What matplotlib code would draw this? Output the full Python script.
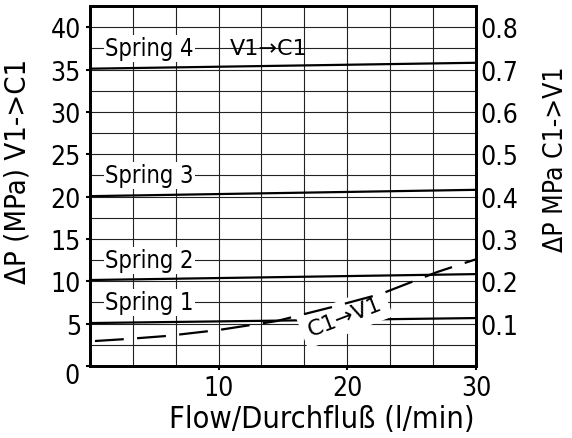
import matplotlib
matplotlib.use('Agg')
import matplotlib.pyplot as plt
import matplotlib.transforms as mtransforms
import numpy as np

# flow (l/min)
flow = [0, 30]
# spring curves, dP V1->C1 (MPa)
spring1 = [5.07, 5.66]
spring2 = [10.15, 10.85]
spring3 = [20.05, 20.8]
spring4 = [35.1, 35.8]
spring_labels = ['Spring 1', 'Spring 2', 'Spring 3', 'Spring 4']
label_y = [7.5, 12.5, 22.5, 37.5]

# check valve C1->V1 (MPa, right axis)
cv_flow = [0.4, 3, 6, 10, 14.5, 18.8, 22.6, 27, 30]
cv_dp = [0.059, 0.064, 0.071, 0.085, 0.106, 0.139, 0.170, 0.222, 0.252]

plt.rcParams['font.family'] = ['DejaVu Sans']
plt.rcParams['font.stretch'] = 'condensed'

fig = plt.figure(figsize=(5.72, 4.39), dpi=100)
ax = fig.add_axes([0.157, 0.164, 0.675, 0.82])
ax.set_xlim(0, 30)
ax.set_ylim(0, 42.5)

# grid
for gx in np.arange(1, 9) * 10 / 3:
    ax.axvline(gx, color='#222222', lw=0.8, zorder=0.5)
for gy in np.arange(2.5, 42.5, 2.5):
    ax.axhline(gy, color='#222222', lw=0.8, zorder=0.5)

for s in [spring1, spring2, spring3, spring4]:
    ax.plot(flow, s, color='black', lw=1.6, zorder=3)

for lab, y in zip(spring_labels, label_y):
    ax.text(1.2, y, lab, fontsize=17, va='center', ha='left', zorder=2,
            bbox=dict(facecolor='white', edgecolor='none', pad=1))

ax.text(10.9, 37.5, 'V1\u2192C1', fontsize=16, va='center', ha='left',
        family='DejaVu Sans', stretch='normal', zorder=2)

ax.set_xticks([10, 20, 30])
ax.set_yticks(np.arange(0, 45, 5))
ax.set_yticklabels([''] + [str(v) for v in range(5, 45, 5)])
ax.text(-0.045, -1.2, '0', transform=mtransforms.blended_transform_factory(ax.transAxes, ax.transData),
        fontsize=19, ha='center', va='center')
ax.tick_params(labelsize=19, length=3, width=1.5, direction='out')
ax.set_xlabel('Flow/Durchfluß (l/min)', fontsize=22)
ax.xaxis.set_label_coords(0.6, -0.105)
ax.set_ylabel('ΔP (MPa) V1->C1', fontsize=21)
ax.yaxis.set_label_coords(-0.15, 0.542)
for sp in ax.spines.values():
    sp.set_linewidth(2)

ax2 = ax.twinx()
ax2.set_ylim(0, 0.85)
ax2.plot(cv_flow, cv_dp, color='black', lw=1.6, dashes=(13, 6), zorder=3)
ax2.text(19.8, 0.116, 'C1\u2192V1', fontsize=16, rotation=21, ha='center', va='center',
         family='DejaVu Sans', stretch='normal', zorder=1,
         rotation_mode='anchor', bbox=dict(facecolor='white', edgecolor='none', pad=5))
ax2.set_yticks(np.arange(0.1, 0.85, 0.1))
ax2.set_yticklabels(['%.1f' % v for v in np.arange(0.1, 0.85, 0.1)])
ax2.tick_params(labelsize=19, length=0)
ax2.set_ylabel('ΔP MPa C1->V1', fontsize=19)
ax2.yaxis.set_label_coords(1.175, 0.578)
for sp in ax2.spines.values():
    sp.set_linewidth(2)

fig.savefig('out.png', dpi=100)
